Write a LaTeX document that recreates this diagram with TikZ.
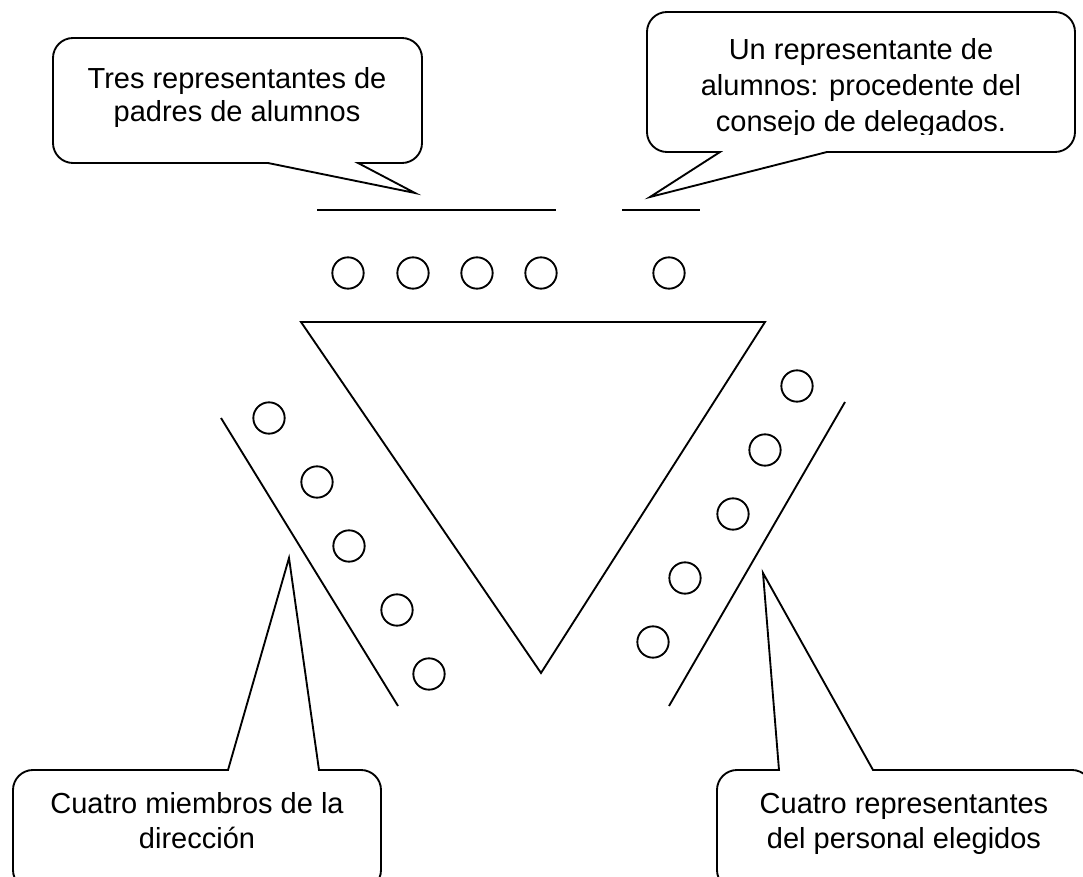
\documentclass[tikz,border=0pt]{standalone}
\usepackage{fontspec}
\setmainfont{Liberation Sans}
\begin{document}
\begin{tikzpicture}[x=0.75pt,y=-0.75pt,line width=1.4pt,
  circ/.style={circle,draw,minimum size=23.5pt,inner sep=0pt},
  lbl/.style={align=center,inner sep=0pt,anchor=base},
  boxline/.style={rounded corners=15pt},
  tailline/.style={line join=miter,miter limit=20}]
\useasboundingbox (0,0) rectangle (1083,877);
\clip (0,0) rectangle (1083,877);

% ---- top-left callout
\draw[boxline] (390,163) -- (422,163) -- (422,38) -- (53,38) -- (53,163) -- (240,163);
\draw[tailline] (240,163) -- (268,163) -- (415,193) -- (358,163) -- (390,163);
\node[lbl,font=\fontsize{21.75}{25}\selectfont] (tl) at (237,122) {Tres representantes de\\padres de alumnos};

% ---- top-right callout
\draw[boxline] (700,152) -- (647,152) -- (647,12) -- (1075,12) -- (1075,152) -- (880,152);
\draw[tailline] (700,152) -- (720,152) -- (650,197) -- (827,152) -- (880,152);
\begin{scope}
  \clip (640,0) rectangle (1080,135);
  \node[lbl,font=\fontsize{21.75}{27}\selectfont] (tr) at (861,132) {Un representante de\\alumnos: procedente del\\consejo de delegados.};
\end{scope}

% ---- bottom-left callout
\draw[boxline] (200,770) -- (13,770) -- (13,890) -- (381,890) -- (381,770) -- (340,770);
\draw[tailline] (200,770) -- (228,770) -- (289,558) -- (319,770) -- (340,770);
\node[lbl,font=\fontsize{21.75}{26.25}\selectfont] (bl) at (197,848) {Cuatro miembros de la\\dirección};

% ---- bottom-right callout
\draw[boxline] (750,770) -- (717,770) -- (717,890) -- (1092,890) -- (1092,770) -- (900,770);
\draw[tailline] (750,770) -- (779,770) -- (763,573) -- (873,770) -- (900,770);
\node[lbl,font=\fontsize{21.75}{26.25}\selectfont] (br) at (904,848) {Cuatro representantes\\del personal elegidos};

% ---- short lines at the top
\coordinate (la) at (317,210); \coordinate (lb) at (556,210);
\coordinate (lc) at (622,210); \coordinate (ld) at (700,210);
\draw (la) -- (lb);
\draw (lc) -- (ld);

% ---- top circles
\node[circ] (t1) at (348,273) {};
\node[circ] (t2) at (413,273) {};
\node[circ] (t3) at (477,273) {};
\node[circ] (t4) at (541,273) {};
\node[circ] (t5) at (669,273) {};

% ---- triangle
\coordinate (A) at (301,322);
\coordinate (B) at (765,322);
\coordinate (C) at (541,673);
\draw (A) -- (B) -- (C) -- cycle;

% ---- left band
\coordinate (L1) at (221,418); \coordinate (L2) at (398,706);
\draw (L1) -- (L2);
\node[circ] (l1) at (269,418) {};
\node[circ] (l2) at (317,482) {};
\node[circ] (l3) at (349,546) {};
\node[circ] (l4) at (397,610) {};
\node[circ] (l5) at (429,674) {};

% ---- right band
\coordinate (R1) at (845,402); \coordinate (R2) at (669,706);
\draw (R1) -- (R2);
\node[circ] (r1) at (797,386) {};
\node[circ] (r2) at (765,450) {};
\node[circ] (r3) at (733,514) {};
\node[circ] (r4) at (685,578) {};
\node[circ] (r5) at (653,642) {};
\end{tikzpicture}
\end{document}
